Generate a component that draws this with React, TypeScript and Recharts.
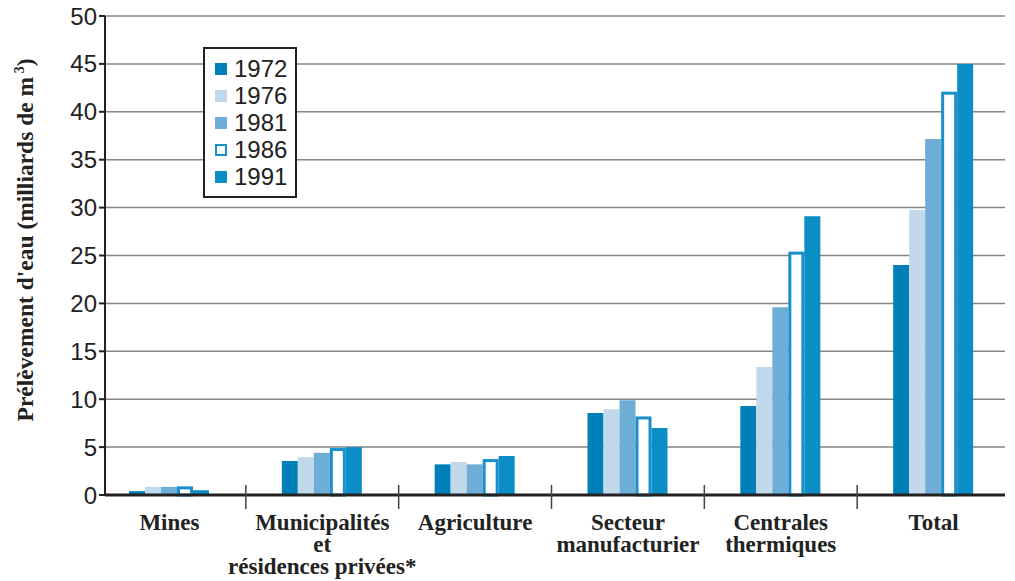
import { BarChart, Bar, XAxis, YAxis, CartesianGrid, Legend } from 'recharts';

const categories = [
  'Mines',
  'Municipalités\net\nrésidences privées*',
  'Agriculture',
  'Secteur\nmanufacturier',
  'Centrales\nthermiques',
  'Total',
];
const years = ['1972', '1976', '1981', '1986', '1991'];
const v1972 = [0.4, 3.55, 3.2, 8.55, 9.3, 24.0];
const v1976 = [0.85, 3.95, 3.45, 8.95, 13.35, 29.75];
const v1981 = [0.85, 4.4, 3.2, 9.9, 19.6, 37.15];
const v1986 = [0.9, 4.9, 3.75, 8.2, 25.4, 42.1];
const v1991 = [0.5, 5.0, 4.07, 7.0, 29.1, 45.0];
const yTicks = [0, 5, 10, 15, 20, 25, 30, 35, 40, 45, 50];

const colors: Record<string, string> = {
  '1972': '#017fb9',
  '1976': '#c2d9ec',
  '1981': '#6eaed6',
  '1986': '#1a90cb',
  '1991': '#0b8dc6',
};

const data = categories.map((name, i) => ({
  name,
  y1972: v1972[i],
  y1976: v1976[i],
  y1981: v1981[i],
  y1986: v1986[i],
  y1991: v1991[i],
}));

if (typeof document !== 'undefined') document.body.style.margin = '0';

const SERIF = '"Liberation Serif", "Times New Roman", serif';
const SANS = '"Liberation Sans", Arial, sans-serif';

function CategoryTick(props: any) {
  const { x, y, payload, index } = props;
  const lines = String(payload.value).split('\n');
  const half = payload.offset ?? 76;
  return (
    <g>
      {index < categories.length - 1 && (
        <line x1={x + half} x2={x + half} y1={y - 10} y2={y + 14} stroke="#444" strokeWidth={1.5} />
      )}
      {lines.map((l, i) => (
        <text
          key={i}
          x={x}
          y={y + 35 + i * 22}
          textAnchor="middle"
          fontFamily={SERIF}
          fontWeight="bold"
          fontSize={23}
          fill="#222"
        >
          {l}
        </text>
      ))}
    </g>
  );
}

function OutlineBar(props: any) {
  const { x, y, width, height, fill } = props;
  if (!height || height <= 0) return null;
  return (
    <rect
      x={x + 1.5}
      y={y + 1.5}
      width={width - 3}
      height={height - 1.5}
      fill="#fff"
      stroke={fill}
      strokeWidth={3}
    />
  );
}

function LegendBox() {
  return (
    <div
      style={{
        border: '2px solid #222',
        boxSizing: 'border-box',
        width: 94,
        height: 151,
        paddingTop: 6,
        background: '#fff',
      }}
    >
      {years.map((yr) => (
        <div key={yr} style={{ display: 'flex', alignItems: 'center', height: 27.2, paddingLeft: 10 }}>
          <span
            style={{
              display: 'inline-block',
              width: 12,
              height: 12,
              boxSizing: 'border-box',
              background: yr === '1986' ? '#fff' : colors[yr],
              border: yr === '1986' ? `2.5px solid ${colors[yr]}` : 'none',
              marginRight: 7,
            }}
          />
          <span style={{ fontFamily: SANS, fontSize: 24, color: '#222', lineHeight: 1 }}>{yr}</span>
        </div>
      ))}
    </div>
  );
}

export default function App() {
  return (
    <div style={{ width: 1015, height: 581, background: '#fff', position: 'relative' }}>
      <BarChart
        width={1015}
        height={581}
        data={data}
        margin={{ top: 16, right: 10, left: 0, bottom: 0 }}
        barSize={16}
        barGap={0}
      >
        <CartesianGrid horizontal vertical={false} stroke="#858585" strokeWidth={1.5} />
        <XAxis
          dataKey="name"
          interval={0}
          height={86}
          padding={{ left: -12, right: -5 }}
          tick={<CategoryTick />}
          tickLine={false}
          tickSize={0}
          tickMargin={0}
          axisLine={{ stroke: '#222', strokeWidth: 3 }}
        />
        <YAxis
          width={105}
          domain={[0, 50]}
          ticks={yTicks}
          interval={0}
          tickSize={6}
          tickMargin={2}
          axisLine={{ stroke: '#222', strokeWidth: 2 }}
          tickLine={{ stroke: '#222', strokeWidth: 2 }}
          tick={{ fontFamily: SANS, fontSize: 24, fill: '#222' }}
          label={() => (
            <text
              transform="translate(33, 240) rotate(-90)"
              textAnchor="middle"
              fontFamily={SERIF}
              fontWeight="bold"
              fontSize={23.5}
              fill="#222"
            >
              Prélèvement d'eau (milliards de m
              <tspan dy={-9} fontSize={14}>
                {' 3'}
              </tspan>
              <tspan dy={9}>)</tspan>
            </text>
          )}
        />
        <Legend
          layout="horizontal"
          verticalAlign="middle"
          align="center"
          content={() => <LegendBox />}
          wrapperStyle={{ left: 203, top: 47, width: 94, height: 151 }}
        />
        <Bar dataKey="y1972" fill={colors['1972']} isAnimationActive={false} />
        <Bar dataKey="y1976" fill={colors['1976']} isAnimationActive={false} />
        <Bar dataKey="y1981" fill={colors['1981']} isAnimationActive={false} />
        <Bar dataKey="y1986" fill={colors['1986']} shape={<OutlineBar />} isAnimationActive={false} />
        <Bar dataKey="y1991" fill={colors['1991']} isAnimationActive={false} />
      </BarChart>
    </div>
  );
}
